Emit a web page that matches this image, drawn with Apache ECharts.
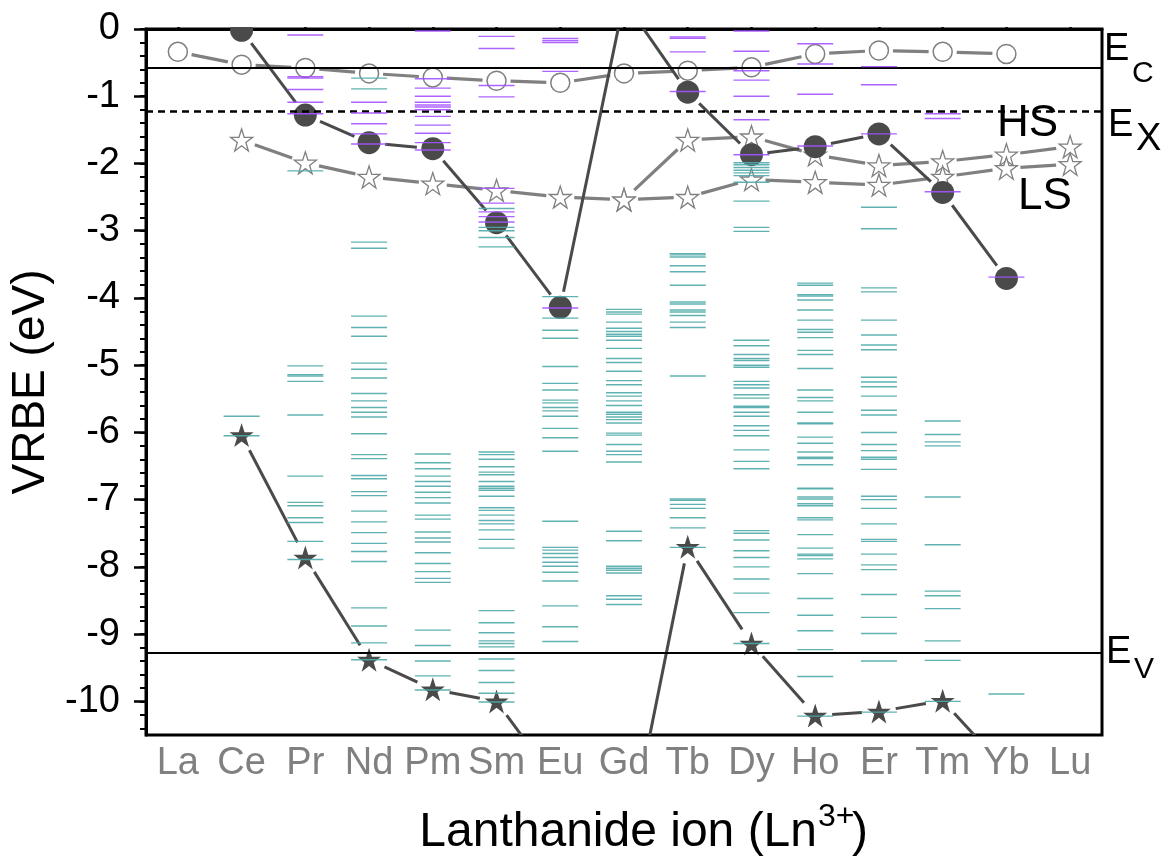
<!DOCTYPE html>
<html><head><meta charset="utf-8">
<script src="https://cdn.jsdelivr.net/npm/echarts@6/dist/echarts.min.js"></script>
<style>html,body{margin:0;padding:0;background:#fff}#c{width:1173px;height:860px}</style>
</head><body><div id="c"></div>
<script>
// ---------- data ----------
const ions = ['La','Ce','Pr','Nd','Pm','Sm','Eu','Gd','Tb','Dy','Ho','Er','Tm','Yb','Lu'];
const yTickLabels = [0,-1,-2,-3,-4,-5,-6,-7,-8,-9,-10];

// reference energies (eV)
const E_C = -0.58;
const E_X = -1.23;
const E_V = -9.27;

// Ln2+ 4f ground state (filled circles)
const ln2Ground = [null,-0.02,-1.28,-1.69,-1.78,-2.88,-4.14,0.42,-0.94,-1.87,-1.75,-1.56,-2.43,-3.71,null];
// Ln2+ related (open circles)
const ln2Open = [-0.34,-0.53,-0.58,-0.66,-0.72,-0.77,-0.80,-0.66,-0.62,-0.57,-0.37,-0.32,-0.34,-0.37,null];
// Ln3+ 5d high spin (open stars)
const ln3HS = [null,-1.65,-1.99,-2.20,-2.30,-2.40,-2.50,-2.54,-1.65,-1.60,-1.87,-2.03,-1.97,-1.87,-1.75];
// Ln3+ 5d low spin (open stars)
const ln3LS = [null,null,null,null,null,null,null,-2.54,-2.50,-2.24,-2.28,-2.32,-2.20,-2.07,-2.01];
// Ln3+ 4f ground state (filled stars)
const ln3Ground = [null,-6.04,-7.86,-9.38,-9.82,-10.00,-11.29,-12.41,-7.70,-9.14,-10.21,-10.15,-9.99,-11.02,null];

// Ln3+ 4f excited levels (teal), per ion
const ln3Levels = [
  /*La*/ [],
  /*Ce*/ [-5.76,-6.05],
  /*Pr*/ [-2.11,-5.01,-5.14,-5.16,-5.24,-5.74,-6.65,-7.04,-7.09,-7.27,-7.34,-7.62,-7.89],
  /*Nd*/ [-0.73,-0.89,-3.17,-3.26,-4.27,-4.44,-4.57,-4.97,-5.06,-5.19,-5.42,-5.53,-5.63,-5.70,-5.77,-6.02,-6.33,-6.39,-6.64,-6.69,-6.88,-6.94,-7.17,-7.33,-7.49,-7.65,-7.77,-7.92,-8.61,-8.88,-9.13,-9.38],
  /*Pm*/ [-6.32,-6.45,-6.54,-6.65,-6.73,-6.80,-6.89,-6.97,-7.05,-7.23,-7.29,-7.48,-7.57,-7.63,-7.79,-7.95,-8.07,-8.17,-8.23,-8.94,-9.17,-9.40,-9.62,-9.83],
  /*Sm*/ [-2.67,-2.95,-3.00,-3.10,-3.24,-6.29,-6.33,-6.40,-6.51,-6.59,-6.63,-6.73,-6.80,-6.83,-6.86,-6.95,-7.12,-7.16,-7.23,-7.31,-7.36,-7.45,-7.59,-7.72,-8.65,-8.83,-8.98,-9.10,-9.14,-9.19,-9.37,-9.54,-9.72,-9.88,-10.01],
  /*Eu*/ [-3.98,-4.30,-4.48,-4.60,-5.02,-5.27,-5.37,-5.52,-5.56,-5.63,-5.68,-5.76,-5.94,-6.08,-6.28,-7.32,-7.71,-7.75,-7.80,-7.86,-7.93,-7.99,-8.08,-8.21,-8.58,-8.89,-9.11],
  /*Gd*/ [-4.17,-4.21,-4.24,-4.36,-4.45,-4.50,-4.54,-4.57,-4.63,-4.75,-4.90,-4.96,-5.09,-5.23,-5.29,-5.41,-5.46,-5.53,-5.60,-5.70,-5.73,-5.77,-5.81,-5.86,-6.01,-6.04,-6.18,-6.28,-6.33,-6.44,-7.47,-7.61,-7.99,-8.02,-8.05,-8.09,-8.43,-8.48,-8.56],
  /*Tb*/ [-3.34,-3.36,-3.39,-3.52,-3.61,-3.81,-4.06,-4.09,-4.18,-4.21,-4.26,-4.36,-4.44,-5.16,-6.99,-7.01,-7.07,-7.13,-7.27,-7.42,-7.71],
  /*Dy*/ [-1.99,-2.02,-2.06,-2.10,-2.14,-2.18,-2.28,-2.56,-2.95,-3.01,-4.63,-4.71,-4.84,-4.90,-4.93,-5.00,-5.03,-5.24,-5.29,-5.34,-5.44,-5.49,-5.61,-5.63,-5.70,-5.76,-5.90,-5.97,-6.05,-6.26,-6.43,-6.54,-7.46,-7.50,-7.60,-7.76,-7.86,-8.00,-8.18,-8.39,-8.68,-9.14],
  /*Ho*/ [-3.78,-3.81,-3.95,-3.97,-4.03,-4.18,-4.33,-4.47,-4.51,-4.59,-4.78,-4.84,-5.05,-5.37,-5.48,-5.53,-5.70,-5.86,-5.87,-6.07,-6.16,-6.29,-6.37,-6.39,-6.48,-6.83,-6.84,-6.96,-6.99,-7.06,-7.09,-7.27,-7.30,-7.52,-7.72,-7.81,-7.83,-7.88,-8.10,-8.47,-8.72,-8.95,-9.23,-9.63,-10.22],
  /*Er*/ [-2.65,-2.97,-3.85,-3.91,-4.33,-4.55,-4.70,-4.77,-5.18,-5.25,-5.32,-5.46,-5.67,-5.74,-6.00,-6.18,-6.27,-6.37,-6.40,-6.55,-6.95,-7.00,-7.13,-7.36,-7.59,-7.62,-7.81,-7.97,-8.04,-8.41,-8.75,-8.99,-9.40,-10.16],
  /*Tm*/ [-5.83,-6.03,-6.14,-6.20,-6.96,-7.67,-8.36,-8.43,-8.62,-9.10,-9.39,-10.00],
  /*Yb*/ [-9.89],
  /*Lu*/ []
];
// Ln2+ 4f excited levels (purple), per ion
const ln2Levels = [
  /*La*/ [],
  /*Ce*/ [],
  /*Pr*/ [-0.09,-0.71,-0.73,-0.90,-1.09,-1.26],
  /*Nd*/ [-1.09,-1.25,-1.41,-1.56,-1.71],
  /*Pm*/ [-0.03,-0.74,-0.88,-1.00,-1.09,-1.13,-1.16,-1.20,-1.30,-1.43,-1.55,-1.69,-1.80],
  /*Sm*/ [-0.11,-0.29,-0.84,-1.01,-2.37,-2.59,-2.72,-2.79,-2.87],
  /*Eu*/ [-0.14,-0.17,-0.20,-0.63,-4.15],
  /*Gd*/ [],
  /*Tb*/ [-0.12,-0.14,-0.34,-0.93],
  /*Dy*/ [-0.03,-0.33,-0.62,-0.76,-1.00,-1.35,-1.87],
  /*Ho*/ [-0.22,-0.52,-0.97,-1.74],
  /*Er*/ [-0.56,-0.83,-1.56],
  /*Tm*/ [-1.26,-1.33,-2.42],
  /*Yb*/ [-3.69],
  /*Lu*/ []
];

// ---------- helpers ----------
const FONT = 'Liberation Sans, Arial, sans-serif';
const DARK = '#4a4a4a', GRAY = '#808080', TEAL = '#4fa8a8', PURPLE = '#a452ff';
const STAR = 'path://M50,2 L61.8,37.7 L99,37.7 L69,59.8 L80.4,95.4 L50,73.5 L19.6,95.4 L31,59.8 L1,37.7 L38.2,37.7 Z';

const minorTicks = [];
for (let k = 0; k <= 52; k++) minorTicks.push(-k * 0.2);

function pts(vals){ const out=[]; vals.forEach((v,i)=>{ if(v!==null) out.push([i,v]); }); return out; }
function segs(vals){ const out=[]; for(let i=0;i<vals.length-1;i++){ if(vals[i]!==null && vals[i+1]!==null) out.push([i,vals[i],i+1,vals[i+1]]); } return out; }
function levelPts(arr){ const out=[]; arr.forEach((lv,i)=>lv.forEach(v=>out.push([i,v]))); return out; }

function segSeries(vals, gap, color, width){
  return {
    type:'custom', clip:true, silent:true, z:2,
    data: segs(vals), encode:{x:[0,2], y:[1,3]},
    renderItem:function(params, api){
      const p1 = api.coord([api.value(0), api.value(1)]);
      const p2 = api.coord([api.value(2), api.value(3)]);
      const dx=p2[0]-p1[0], dy=p2[1]-p1[1], L=Math.hypot(dx,dy);
      if (L <= 2*gap) return null;
      const ux=dx/L, uy=dy/L;
      return {type:'line', shape:{x1:p1[0]+ux*gap, y1:p1[1]+uy*gap, x2:p2[0]-ux*gap, y2:p2[1]-uy*gap},
              style:{stroke:color, lineWidth:width, lineCap:'butt'}};
    }
  };
}

const chart = echarts.init(document.getElementById('c'), null, {renderer:'canvas'});
chart.setOption({
  animation:false,
  backgroundColor:'#fff',
  grid:{left:146, right:71, top:29, bottom:125, show:true, borderColor:'#000', borderWidth:3, backgroundColor:'transparent'},
  xAxis:{
    type:'category', data:ions, boundaryGap:true,
    axisLine:{lineStyle:{color:'#000', width:3}},
    axisTick:{show:true, alignWithLabel:true, inside:true, length:13, lineStyle:{color:'#000', width:2.5}},
    axisLabel:{color:'#808080', fontSize:38, fontFamily:FONT, margin:10, interval:0},
    splitLine:{show:false}
  },
  yAxis:[{
    type:'value', min:-10.5, max:0, interval:0.5,
    axisLine:{show:true, lineStyle:{color:'#000', width:3}},
    axisTick:{show:true, customValues:yTickLabels, length:12, lineStyle:{color:'#000', width:2.5}},
    axisLabel:{customValues:yTickLabels, color:'#000', fontSize:38, fontFamily:FONT, margin:26},
    splitLine:{show:false},
    name:'VRBE (eV)', nameLocation:'middle', nameGap:86,
    nameTextStyle:{fontSize:46, fontFamily:FONT, color:'#000'}
  },{
    type:'value', min:-10.5, max:0, interval:0.5, position:'left',
    axisLine:{show:false},
    axisTick:{show:true, customValues:minorTicks, length:6, lineStyle:{color:'#000', width:2}},
    axisLabel:{show:false}, splitLine:{show:false}
  }],
  series:[
    segSeries(ln3HS, 14, GRAY, 3.2),
    segSeries(ln3LS, 14, GRAY, 3.2),
    segSeries(ln2Open, 14, GRAY, 3.2),
    segSeries(ln2Ground, 16, DARK, 3),
    segSeries(ln3Ground, 17, DARK, 3),
    {type:'scatter', data:pts(ln3HS), symbol:STAR, symbolSize:22, z:3,
     itemStyle:{color:'#fff', borderColor:GRAY, borderWidth:1.3, opacity:1}},
    {type:'scatter', data:pts(ln3LS), symbol:STAR, symbolSize:22, z:3,
     itemStyle:{color:'#fff', borderColor:GRAY, borderWidth:1.3, opacity:1}},
    {type:'scatter', data:pts(ln2Open), symbol:'circle', symbolSize:19, z:3,
     itemStyle:{color:'#fff', borderColor:GRAY, borderWidth:1.5, opacity:1}},
    {type:'scatter', data:pts(ln2Ground), symbol:'circle', symbolSize:23, z:4,
     itemStyle:{color:DARK, opacity:1}},
    {type:'scatter', data:pts(ln3Ground), symbol:STAR, symbolSize:24, z:4,
     itemStyle:{color:DARK, opacity:1}},
    {type:'scatter', data:levelPts(ln3Levels), symbol:'rect', symbolSize:[36,1.4], z:6, silent:true,
     itemStyle:{color:TEAL, opacity:0.9}},
    {type:'scatter', data:levelPts(ln2Levels), symbol:'rect', symbolSize:[36,1.4], z:6, silent:true,
     itemStyle:{color:PURPLE, opacity:0.9},
     markLine:{silent:true, symbol:'none', label:{show:false},
       data:[
         {yAxis:E_C, lineStyle:{color:'#000', width:2, type:'solid', opacity:1}},
         {yAxis:E_V, lineStyle:{color:'#000', width:2, type:'solid', opacity:1}},
         {yAxis:E_X, lineStyle:{color:'#000', width:2.5, type:[7,5], opacity:1}}
       ]}}
  ],
  graphic:[
    {type:'rect', shape:{x:147, y:0, width:954, height:27}, style:{fill:'#fff'}, z:100, silent:true},
    {type:'text', x:997, y:124, z:101, style:{text:'HS', font:'44px '+FONT, fill:'#000', textVerticalAlign:'middle'}},
    {type:'text', x:1018, y:197, z:101, style:{text:'LS', font:'44px '+FONT, fill:'#000', textVerticalAlign:'middle'}},
    {type:'text', x:1104, y:50, z:101, style:{text:'E', font:'38px '+FONT, fill:'#000', textVerticalAlign:'middle'}},
    {type:'text', x:1132, y:74, z:101, style:{text:'C', font:'30px '+FONT, fill:'#000', textVerticalAlign:'middle'}},
    {type:'text', x:1108, y:126, z:101, style:{text:'E', font:'38px '+FONT, fill:'#000', textVerticalAlign:'middle'}},
    {type:'text', x:1136, y:140, z:101, style:{text:'X', font:'38px '+FONT, fill:'#000', textVerticalAlign:'middle'}},
    {type:'text', x:1106, y:653, z:101, style:{text:'E', font:'38px '+FONT, fill:'#000', textVerticalAlign:'middle'}},
    {type:'text', x:1134, y:670, z:101, style:{text:'V', font:'30px '+FONT, fill:'#000', textVerticalAlign:'middle'}},
    {type:'text', x:817, y:833, z:101, style:{text:'Lanthanide ion (Ln', font:'48px '+FONT, fill:'#000', textAlign:'right', textVerticalAlign:'middle'}},
    {type:'text', x:818, y:817, z:101, style:{text:'3+', font:'32px '+FONT, fill:'#000', textAlign:'left', textVerticalAlign:'middle'}},
    {type:'text', x:852, y:833, z:101, style:{text:')', font:'48px '+FONT, fill:'#000', textAlign:'left', textVerticalAlign:'middle'}}
  ]
});
</script></body></html>
